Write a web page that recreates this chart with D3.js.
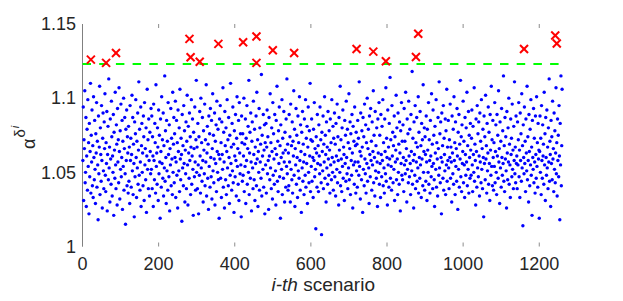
<!DOCTYPE html>
<html>
<head>
<meta charset="utf-8">
<script src="https://cdn.jsdelivr.net/npm/d3@7"></script>
<style>
  body { margin: 0; background: #fff; }
  text { font-family: "Liberation Sans", Arial, sans-serif; fill: #262626; }
</style>
</head>
<body>
<div id="chart"></div>
<script>
/* Chart data: alpha value for each scenario, stored as thousandths above 1 */
var alphaMilli = [
  58,94,31,72,66,105,43,50,87,27,61,79,38,99,54,70,22,83,47,64,110,36,75,57,92,41,68,33,101,60,45,85,52,29,76,63,97,40,71,55,18,88,49,67,108,35,80,62,44,95,58,26,73,90,51,39,84,66,103,48,
  37,70,56,91,24,62,81,45,113,53,67,30,86,59,42,98,74,34,61,50,89,21,77,65,46,104,55,39,82,69,28,93,57,72,43,107,64,32,78,52,96,47,60,85,25,71,54,100,38,66,87,49,15,79,58,92,41,74,63,36,
  81,44,67,29,95,58,73,40,62,102,51,87,35,69,56,20,84,47,76,99,60,33,71,53,90,42,65,111,48,79,38,57,94,27,68,83,50,63,41,88,74,31,97,55,66,45,80,23,61,106,52,72,39,86,58,34,77,64,49,93,
  52,88,39,74,61,27,96,58,45,83,70,36,109,54,63,42,80,67,31,92,49,75,57,19,86,64,40,101,56,72,46,90,34,68,53,115,44,78,60,29,85,51,71,38,97,62,47,82,24,66,55,93,41,73,59,35,104,50,69,87,
  43,76,60,98,33,57,85,48,70,26,92,64,51,80,37,106,59,45,73,62,17,89,53,68,41,95,56,78,30,65,49,84,39,71,102,55,28,81,63,46,90,58,74,35,67,99,42,61,86,52,21,77,66,47,94,57,38,72,112,50,
  67,39,83,55,22,74,48,91,61,36,100,53,70,44,87,58,30,78,65,49,96,41,72,57,109,34,63,81,46,69,25,88,54,76,40,93,60,47,85,32,66,103,51,75,43,59,90,28,71,56,82,37,98,64,50,79,45,62,19,86,
  59,95,46,70,33,84,62,52,107,40,77,57,26,91,68,45,80,35,64,99,53,72,41,87,60,29,75,48,110,56,67,38,83,51,94,43,69,23,78,61,47,89,58,34,73,101,54,66,42,85,31,97,63,49,76,55,20,88,70,44,
  76,48,61,100,37,69,54,86,29,73,58,95,42,66,81,50,112,35,63,77,46,90,57,24,71,84,53,39,98,62,45,79,31,67,56,88,41,104,59,72,27,64,50,93,38,80,57,69,46,116,34,75,61,52,89,40,65,82,22,70,
  55,83,36,67,92,49,74,58,25,87,61,45,103,53,70,39,80,64,32,97,48,76,59,42,89,66,51,28,85,62,108,44,71,37,78,56,94,47,68,19,82,60,52,99,35,73,63,46,91,57,30,77,65,40,86,54,113,49,69,38,
  63,41,89,57,74,30,96,52,68,45,84,36,71,61,105,48,79,27,66,55,93,42,75,60,33,88,51,70,46,101,58,38,82,64,23,77,53,91,44,69,57,35,86,62,48,99,40,73,56,81,29,67,94,50,43,78,61,110,37,72,
  54,86,44,71,60,33,79,58,97,47,66,52,12,74,63,40,89,56,68,37,82,61,49,94,55,72,43,8,77,64,51,88,39,69,57,101,46,75,62,30,84,53,67,42,91,59,48,78,65,36,86,55,70,45,99,60,50,81,38,73,
  57,90,47,69,34,83,61,52,96,43,74,58,28,87,65,50,108,41,72,59,37,80,54,92,46,67,62,31,85,56,75,44,98,60,49,79,39,70,53,103,45,66,84,35,76,58,48,89,63,26,81,55,71,42,94,57,68,36,77,51,
  69,40,85,57,73,48,111,54,64,32,90,61,45,78,67,23,87,52,74,41,96,59,49,82,36,70,56,100,44,66,79,53,29,88,62,47,93,58,71,38,84,55,64,105,43,75,60,34,91,51,68,46,80,57,27,86,63,50,97,42,
  75,56,33,89,62,47,81,58,99,41,70,53,36,86,64,49,107,44,73,60,28,92,55,67,40,83,59,114,46,72,54,38,95,61,77,43,68,52,88,31,74,57,65,102,45,80,59,35,90,50,69,42,84,63,24,78,56,97,48,71,
  45,82,60,37,93,55,71,49,104,58,66,30,86,52,76,43,98,61,47,79,56,35,89,64,51,118,42,73,58,26,84,62,48,95,39,70,57,87,44,67,53,101,36,77,60,46,91,55,68,33,83,59,72,41,109,50,64,80,38,74,
  62,44,88,57,31,79,65,50,97,42,72,58,36,85,61,47,103,54,69,39,92,56,75,45,27,81,63,52,99,40,70,59,34,87,66,48,111,53,76,43,84,60,22,90,57,68,46,95,38,73,62,51,86,35,78,55,106,44,67,58,
  85,53,39,72,60,96,46,67,57,30,88,63,49,79,42,101,58,70,35,84,54,66,44,93,61,25,77,52,89,40,69,59,112,47,74,37,82,56,64,98,43,71,55,33,87,62,48,80,57,104,41,68,52,91,36,75,60,46,83,65,
  48,73,92,55,37,81,62,50,107,44,69,58,28,86,64,40,95,53,76,47,84,61,34,90,57,71,43,99,52,66,39,79,60,20,88,56,74,45,102,59,68,36,83,51,63,94,42,77,56,31,89,65,48,108,54,72,41,85,60,38,
  70,54,97,43,64,82,50,35,89,61,75,46,105,57,66,29,84,53,71,40,93,60,48,78,56,115,44,68,37,87,59,74,51,26,91,63,45,80,57,100,42,69,55,33,86,62,73,47,96,52,65,39,81,58,111,49,67,43,88,56,
  61,39,84,55,72,97,47,65,33,90,58,76,44,103,53,68,14,82,60,49,94,56,71,37,86,63,51,108,45,74,58,30,89,64,41,79,55,99,48,67,21,85,60,52,93,43,73,57,36,88,62,46,101,54,70,40,83,59,65,19,
  64,88,50,73,35,95,58,46,82,61,69,42,104,55,76,31,87,60,48,92,53,67,39,80,57,113,44,71,62,27,85,56,74,45,98,59,66,37,90,52,78,43,63,107,49,70,34,86,58,75,47,95,61,18,83,55,115,41,68,106
];

/* Scenarios that went over the limit (red crosses) */
var overIndex = [22, 62, 88, 281, 284, 308, 357, 422, 457, 457, 500, 556, 720, 764, 797, 876, 882, 1160, 1242, 1246];
var overValue = [1.126, 1.1238, 1.1305, 1.140, 1.1276, 1.1245, 1.1366, 1.1377, 1.1416, 1.1238, 1.1323, 1.1305, 1.1332, 1.1314, 1.1249, 1.1278, 1.1434, 1.1332, 1.1422, 1.1368];

var limitValue = 1.123;
var limitRange = [0, 1260];

var xTicks = [0, 200, 400, 600, 800, 1000, 1200];
var yTicks = [1, 1.05, 1.1, 1.15];
var yTickLabels = ["1", "1.05", "1.1", "1.15"];

/* Sizes (plot box in pixels) */
var width = 623, height = 301;
var plotLeft = 82.5, plotRight = 564, plotTop = 24, plotBottom = 246.5;

var svg = d3.select("#chart").append("svg")
    .attr("width", width)
    .attr("height", height);

var x = d3.scaleLinear().domain([0, 1265]).range([plotLeft, plotRight]);
var y = d3.scaleLinear().domain([1, 1.15]).range([plotBottom, plotTop]);

var points = alphaMilli.map(function(d, i) {
    return {i: i + 1, v: 1 + d / 1000};
});

/* top and bottom tick marks (inward) */
var tickColor = "#8c8c8c";
svg.append("g").selectAll("line")
    .data(xTicks)
    .enter().append("line")
    .attr("x1", function(d) { return x(d); })
    .attr("x2", function(d) { return x(d); })
    .attr("y1", plotBottom)
    .attr("y2", plotBottom - 4)
    .attr("stroke", tickColor);
svg.append("g").selectAll("line")
    .data(xTicks)
    .enter().append("line")
    .attr("x1", function(d) { return x(d); })
    .attr("x2", function(d) { return x(d); })
    .attr("y1", plotTop)
    .attr("y2", plotTop + 4)
    .attr("stroke", tickColor);

/* left axis line */
svg.append("line")
    .attr("x1", plotLeft).attr("x2", plotLeft)
    .attr("y1", plotTop).attr("y2", plotBottom)
    .attr("stroke", "#808080")
    .attr("stroke-width", 1);

/* blue scenario dots */
svg.append("g").selectAll("circle")
    .data(points)
    .enter().append("circle")
    .attr("cx", function(d) { return x(d.i); })
    .attr("cy", function(d) { return y(d.v); })
    .attr("r", 1.7)
    .attr("fill", "#0000ff");

/* dashed green limit */
svg.append("line")
    .attr("x1", x(limitRange[0]))
    .attr("x2", x(limitRange[1]))
    .attr("y1", y(limitValue))
    .attr("y2", y(limitValue))
    .attr("stroke", "#00ff00")
    .attr("stroke-width", 2)
    .attr("stroke-dasharray", "8.5,8.2");

/* red crosses */
var crosses = svg.append("g").selectAll("g")
    .data(overIndex.map(function(d, i) { return {i: d, v: overValue[i]}; }))
    .enter().append("g")
    .attr("transform", function(d) { return "translate(" + x(d.i) + "," + y(d.v) + ")"; });
crosses.append("line").attr("x1", -4).attr("y1", -4).attr("x2", 4).attr("y2", 4);
crosses.append("line").attr("x1", -4).attr("y1", 4).attr("x2", 4).attr("y2", -4);
crosses.selectAll("line").attr("stroke", "#ff0000").attr("stroke-width", 2);

/* tick labels */
svg.append("g").selectAll("text")
    .data(xTicks)
    .enter().append("text")
    .attr("x", function(d) { return x(d); })
    .attr("y", 270)
    .attr("text-anchor", "middle")
    .style("font-size", "18px")
    .text(function(d) { return d; });

svg.append("g").selectAll("text")
    .data(yTicks)
    .enter().append("text")
    .attr("x", 76)
    .attr("y", function(d) { return y(d); })
    .attr("dy", "0.35em")
    .attr("text-anchor", "end")
    .style("font-size", "18px")
    .text(function(d, i) { return yTickLabels[i]; });

/* x label */
var xl = svg.append("text")
    .attr("x", (plotLeft + plotRight) / 2)
    .attr("y", 291)
    .attr("text-anchor", "middle")
    .style("font-size", "19px");
xl.append("tspan").style("font-style", "italic").text("i-th");
xl.append("tspan").text(" scenario");

/* y label: alpha^(delta^i) */
var yl = svg.append("text")
    .attr("transform", "translate(35,149) rotate(-90)")
    .style("font-size", "18px");
yl.append("tspan").text("\u03b1");
yl.append("tspan").attr("dy", -10).attr("dx", 1).style("font-size", "15px").text("\u03b4");
yl.append("tspan").attr("dy", -6).attr("dx", 1).style("font-size", "11px").style("font-style", "italic").text("i");
</script>
</body>
</html>
